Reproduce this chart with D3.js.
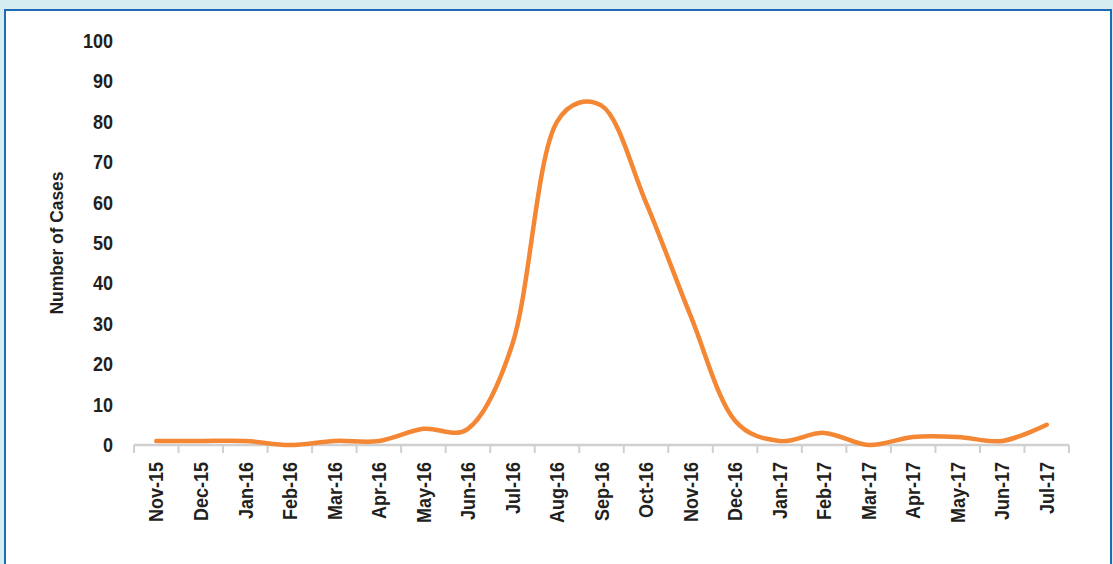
<!DOCTYPE html>
<html><head><meta charset="utf-8">
<script src="https://cdn.jsdelivr.net/npm/d3@7"></script>
<style>
html,body{margin:0;padding:0;background:#d5ecf1;}
svg{display:block;}
</style></head>
<body>
<svg id="c" width="1113" height="564"></svg>
<script>
const months = ["Nov-15","Dec-15","Jan-16","Feb-16","Mar-16","Apr-16","May-16","Jun-16","Jul-16","Aug-16","Sep-16","Oct-16","Nov-16","Dec-16","Jan-17","Feb-17","Mar-17","Apr-17","May-17","Jun-17","Jul-17"];
const cases = [1,1,1,0,1,1,4,4,25,80,84,60,32,6,1,3,0,2,2,1,5];
const yTicks = [0,10,20,30,40,50,60,70,80,90,100];
const yTitle = "Number of Cases";

const svg = d3.select("#c");
svg.append("rect").attr("x",0).attr("y",0).attr("width",1113).attr("height",564).attr("fill","#d5ecf1");
svg.append("rect").attr("x",5).attr("y",10).attr("width",1106).attr("height",560)
  .attr("fill","#ffffff").attr("stroke","#1f6ab4").attr("stroke-width",2);

const x = d3.scaleBand().domain(months).range([134,1069]).padding(0);
const y = d3.scaleLinear().domain([0,100]).range([445,41]);
const font = "'Liberation Sans', Arial, sans-serif";

// y tick labels
svg.append("g").selectAll("text").data(yTicks).join("text")
  .attr("transform",d=>`translate(113,${y(d)}) scale(0.9,1)`)
  .attr("dy","0.35em")
  .attr("text-anchor","end").attr("font-family",font).attr("font-weight","bold")
  .attr("font-size",20).attr("fill","#231f20").text(d=>d);

// y title
svg.append("text").attr("transform",`translate(63,${(y(0)+y(100))/2}) rotate(-90) scale(0.94,1)`)
  .attr("text-anchor","middle").attr("font-family",font).attr("font-weight","bold")
  .attr("font-size",18.5).attr("fill","#231f20").text(yTitle);

// x axis
const xa = svg.append("g").attr("transform",`translate(0,${y(0)})`);
xa.append("line").attr("x1",x.range()[0]).attr("x2",x.range()[1]).attr("y1",0).attr("y2",0)
  .attr("stroke","#d0d0d0").attr("stroke-width",2.5);
const bounds = months.map(m=>x(m)).concat([x.range()[1]]);
xa.selectAll("line.tick").data(bounds).join("line").attr("class","tick")
  .attr("x1",d=>d).attr("x2",d=>d).attr("y1",0).attr("y2",8)
  .attr("stroke","#d0d0d0").attr("stroke-width",2);
xa.selectAll("text").data(months).join("text")
  .attr("transform",d=>`translate(${x(d)+x.bandwidth()/2},17) rotate(-90) scale(0.9,1)`)
  .attr("dy","0.36em").attr("text-anchor","end")
  .attr("font-family",font).attr("font-weight","bold").attr("font-size",20)
  .attr("fill","#231f20").text(d=>d);

// line
const line = d3.line().x((d,i)=>x(months[i])+x.bandwidth()/2).y(d=>y(d)).curve(d3.curveCatmullRom.alpha(0.3));
svg.append("path").datum(cases).attr("d",line).attr("fill","none")
  .attr("stroke","#f48734").attr("stroke-width",4.5).attr("stroke-linecap","round").attr("stroke-linejoin","round");
</script>
</body></html>
